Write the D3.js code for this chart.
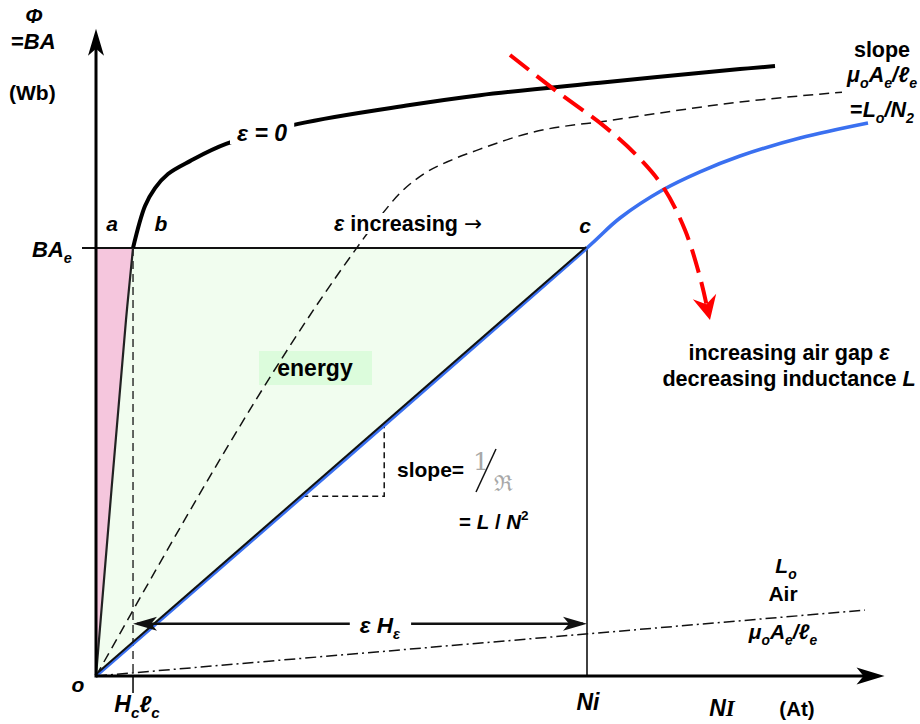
<!DOCTYPE html>
<html>
<head>
<meta charset="utf-8">
<script src="https://cdn.jsdelivr.net/npm/d3@7"></script>
<style>
  body { margin: 0; background: #fff; }
  text { font-family: "Liberation Sans", Arial, sans-serif; font-weight: bold; fill: #000; }
</style>
</head>
<body>
<svg id="chart" width="920" height="724"></svg>
<script>
// Flux Φ against excitation NI for a core with and without an air gap.
// x: NI in percent of the operating excitation Ni, y: Φ in units of BA_e.
const Ni = 100;          // operating excitation
const BAe = 1;           // operating flux B·A_e
const Hc = 7.54;         // core share H_c·ℓ_c at the operating flux
const xAxisEnd = 160.6;
const yAxisEnd = 1.512;

// ε = 0 : ungapped core curve
const eps0Curve = [
  [0, 0], [6.11, 0.832], [7.54, 1.0], [9.98, 1.098], [12.02, 1.140], [14.66, 1.173],
  [19.14, 1.203], [26.48, 1.243], [41.20, 1.290],
  [63.95, 1.334], [78.21, 1.357], [102.65, 1.386], [131.16, 1.418], [138.29, 1.425]
];
const eps0KneeIndex = 2;   // point b, where the curve meets BA_e

// intermediate gap (dashed)
const midCurve = [
  [0, 0], [52.34, 0.988], [57.03, 1.061], [61.91, 1.128], [67.0, 1.175], [72.5, 1.206],
  [78.21, 1.231], [88.39, 1.269], [105.30, 1.299], [131.16, 1.341], [151.93, 1.364]
];

// gapped core (blue)
const gapCurve = [
  [0, 0], [100, 1], [106.72, 1.070], [115.48, 1.136], [123.01, 1.178],
  [131.16, 1.215], [143.38, 1.257], [157.23, 1.292]
];

// air only: slope μ_o A_e / ℓ_e
const airLine = [[0, 0], [156.6, 0.154]];

// direction of increasing air gap
const gapArrow = [
  [84.32, 1.451], [93.48, 1.369], [103.67, 1.283], [110.39, 1.213], [115.48, 1.143],
  [119.96, 1.042], [123.01, 0.932], [125.05, 0.832]
];

// slope triangle on the gapped line
const slopeRun = [42, 58.7];

const svg = d3.select("#chart");
const x = d3.scaleLinear().domain([0, Ni]).range([96, 587]);
const y = d3.scaleLinear().domain([0, BAe]).range([676, 248]);

const line = d3.line().x(d => x(d[0])).y(d => y(d[1]));
const smooth = d3.line().x(d => x(d[0])).y(d => y(d[1])).curve(d3.curveCatmullRom.alpha(0.5));
const mono = d3.line().x(d => x(d[0])).y(d => y(d[1])).curve(d3.curveMonotoneX);

// --- shaded areas -------------------------------------------------------
const lowerEps0 = eps0Curve.slice(0, eps0KneeIndex + 1);
svg.append("path")
  .attr("d", smooth(lowerEps0) + "L" + x(0) + "," + y(BAe) + "Z")
  .attr("fill", "#f5c6dd");
svg.append("path")
  .attr("d", smooth(lowerEps0) + "L" + x(Ni) + "," + y(BAe) + "Z")
  .attr("fill", "#f1fdef");

// energy label box
svg.append("rect").attr("x", 259).attr("y", 351).attr("width", 113).attr("height", 34)
  .attr("fill", "#dcfcdc");

// --- construction lines ------------------------------------------------
svg.append("line")
  .attr("x1", x(0) - 14).attr("x2", x(Ni)).attr("y1", y(BAe)).attr("y2", y(BAe))
  .attr("stroke", "#111").attr("stroke-width", 1.8);
svg.append("line")
  .attr("x1", x(Ni)).attr("x2", x(Ni)).attr("y1", y(BAe)).attr("y2", y(0))
  .attr("stroke", "#111").attr("stroke-width", 1.6);
svg.append("line")
  .attr("x1", x(Hc)).attr("x2", x(Hc)).attr("y1", y(BAe)).attr("y2", y(0))
  .attr("stroke", "#222").attr("stroke-width", 1.4).attr("stroke-dasharray", "8,5");
svg.append("line")
  .attr("x1", x(Hc)).attr("x2", x(Hc)).attr("y1", y(0)).attr("y2", y(0) + 17)
  .attr("stroke", "#111").attr("stroke-width", 1.6);

// slope triangle
svg.append("path")
  .attr("d", line([[slopeRun[0], slopeRun[0] / Ni], [slopeRun[1], slopeRun[0] / Ni], [slopeRun[1], slopeRun[1] / Ni]]))
  .attr("fill", "none").attr("stroke", "#111").attr("stroke-width", 1.5).attr("stroke-dasharray", "6,4");

// air line
svg.append("path").attr("d", line(airLine))
  .attr("fill", "none").attr("stroke", "#111").attr("stroke-width", 1.5)
  .attr("stroke-dasharray", "11,4,2,4");

// intermediate gap curve
svg.append("path").attr("d", mono(midCurve))
  .attr("fill", "none").attr("stroke", "#111").attr("stroke-width", 1.5)
  .attr("stroke-dasharray", "10,6");

// gapped core curve and its linear part
svg.append("path").attr("d", smooth(gapCurve))
  .attr("fill", "none").attr("stroke", "#3a70f0").attr("stroke-width", 3.6);
svg.append("path").attr("d", line([[0, 0], [Ni, BAe]]))
  .attr("transform", "translate(-0.9,-0.9)")
  .attr("fill", "none").attr("stroke", "#111").attr("stroke-width", 2);

// ε = 0 curve
svg.append("path").attr("d", smooth(lowerEps0))
  .attr("fill", "none").attr("stroke", "#222").attr("stroke-width", 2.2);
svg.append("path").attr("d", smooth(eps0Curve.slice(eps0KneeIndex)))
  .attr("fill", "none").attr("stroke", "#000").attr("stroke-width", 4);

// barbed arrow head with its tip at (tx, ty) pointing along angle a
function arrowHead(tx, ty, a, len, half, notch, color) {
  const c = Math.cos(a), s = Math.sin(a);
  const p = (u, v) => [tx - u * c - v * s, ty - u * s + v * c];
  const pts = [p(0, 0), p(len, half), p(len - notch, 0), p(len, -half)];
  svg.append("path").attr("d", "M" + pts.map(q => q.join(",")).join("L") + "Z")
    .attr("fill", color);
}

// red arrow: increasing gap
const gA = gapArrow.map(d => [x(d[0]), y(d[1])]);
svg.append("path").attr("d", smooth(gapArrow.slice(0, -1).concat([[124.3, 0.87]])))
  .attr("fill", "none").attr("stroke", "#f00").attr("stroke-width", 4)
  .attr("stroke-dasharray", "24,10");
{
  const n = gA.length;
  const a = Math.atan2(gA[n - 1][1] - gA[n - 2][1], gA[n - 1][0] - gA[n - 2][0]);
  arrowHead(gA[n - 1][0], gA[n - 1][1], a, 24, 12, 8, "#f00");
}

// ε H_ε dimension arrow
const dimY = y(0.122);
svg.append("line").attr("x1", x(Hc) + 4).attr("x2", x(Ni) - 4).attr("y1", dimY).attr("y2", dimY)
  .attr("stroke", "#111").attr("stroke-width", 2.5);
arrowHead(x(Hc), dimY, Math.PI, 24, 7, 6, "#111");
arrowHead(x(Ni), dimY, 0, 24, 7, 6, "#111");

// axes
svg.append("line").attr("x1", x(0)).attr("x2", x(xAxisEnd) - 10).attr("y1", y(0)).attr("y2", y(0))
  .attr("stroke", "#000").attr("stroke-width", 3);
svg.append("line").attr("x1", x(0)).attr("x2", x(0)).attr("y1", y(0) + 1.5).attr("y2", y(yAxisEnd) + 10)
  .attr("stroke", "#000").attr("stroke-width", 3);
arrowHead(x(xAxisEnd), y(0), 0, 28, 8.5, 7, "#000");
arrowHead(x(0), y(yAxisEnd), -Math.PI / 2, 27, 8, 7, "#000");

// --- labels ------------------------------------------------------------
function rich(px, py, parts, size, anchor) {
  const t = svg.append("text").attr("x", px).attr("y", py)
    .attr("font-size", size).attr("text-anchor", anchor || "start");
  let shift = 0;
  parts.forEach(p => {
    const s = t.append("tspan").text(p.t);
    const target = p.sub ? size * 0.28 : p.sup ? -size * 0.42 : 0;
    if (target !== shift) { s.attr("dy", target - shift); shift = target; }
    if (p.sub || p.sup) s.attr("font-size", size * 0.66);
    if (p.i) s.attr("font-style", "italic");
    if (p.f) s.attr("font-family", p.f);
    if (p.w) s.attr("font-weight", p.w);
    if (p.fill) s.style("fill", p.fill);
  });
  return t;
}
function backing(t, pad) {
  const b = t.node().getBBox();
  svg.insert("rect", () => t.node())
    .attr("x", b.x - pad).attr("y", b.y + 2).attr("width", b.width + 2 * pad).attr("height", b.height - 4)
    .attr("fill", "#fff");
}

rich(34, 23, [{ t: "Φ", i: true }], 21, "middle");
rich(11, 49, [{ t: "=" }, { t: "BA", i: true }], 22);
rich(9, 100, [{ t: "(Wb)" }], 21);
rich(32, 257, [{ t: "BA", i: true }, { t: "e", i: true, sub: true }], 22);

rich(112, 231, [{ t: "a", i: true }], 21, "middle");
rich(161, 231, [{ t: "b", i: true }], 21, "middle");
rich(585, 233, [{ t: "c", i: true }], 21, "middle");

backing(rich(262, 141, [{ t: "ε = 0", i: true }], 23, "middle"), 7);
backing(rich(408, 231, [{ t: "ε", i: true }, { t: " increasing " }, { t: "→", f: "'DejaVu Sans', sans-serif", w: "normal" }], 21.5, "middle"), 2);

rich(315, 376, [{ t: "energy" }], 23, "middle");

rich(397, 477, [{ t: "slope" }, { t: "=" }], 21);
rich(481, 470, [{ t: "1", f: "'DejaVu Serif', serif", w: "normal", fill: "#a8a8a8" }], 25, "middle");
svg.append("line").attr("x1", 476).attr("y1", 492).attr("x2", 496).attr("y2", 449)
  .attr("stroke", "#111").attr("stroke-width", 1.5);
rich(503, 491, [{ t: "ℜ", f: "'DejaVu Serif', serif", w: "normal", fill: "#a8a8a8" }], 22, "middle");
rich(459, 529, [{ t: "= " }, { t: "L", i: true }, { t: " / " }, { t: "N", i: true }, { t: "2", sup: true }], 20.5);

backing(rich(380, 633, [{ t: "ε", i: true }, { t: " " }, { t: "H", i: true }, { t: "ε", i: true, sub: true }], 22.5, "middle"), 10);

rich(882, 57, [{ t: "slope" }], 21.5, "middle");
rich(882, 82, [{ t: "μ", i: true }, { t: "o", i: true, sub: true }, { t: "A", i: true }, { t: "e", i: true, sub: true },
  { t: "/ℓ", i: true }, { t: "e", i: true, sub: true }], 21.5, "middle");
rich(882, 117, [{ t: "=" }, { t: "L", i: true }, { t: "o", i: true, sub: true }, { t: "/N", i: true }, { t: "2", i: true, sub: true }], 21.5, "middle");

rich(789, 360, [{ t: "increasing air gap " }, { t: "ε", i: true }], 21.6, "middle");
rich(789, 386, [{ t: "decreasing inductance " }, { t: "L", i: true }], 21.6, "middle");

rich(786, 573, [{ t: "L", i: true }, { t: "o", i: true, sub: true }], 21, "middle");
rich(783, 601, [{ t: "Air" }], 21, "middle");
rich(783, 639, [{ t: "μ", i: true }, { t: "o", i: true, sub: true }, { t: "A", i: true }, { t: "e", i: true, sub: true },
  { t: "/ℓ", i: true }, { t: "e", i: true, sub: true }], 21, "middle");

rich(78, 692, [{ t: "o", i: true }], 21, "middle");
rich(137, 712, [{ t: "H", i: true }, { t: "c", i: true, sub: true }, { t: "ℓ", i: true }, { t: "c", i: true, sub: true }], 23, "middle");
rich(588, 710, [{ t: "Ni", i: true }], 23, "middle");
rich(722, 716, [{ t: "N", i: true }, { t: "I", i: true, f: "'Liberation Serif', serif" }], 23, "middle");
rich(797, 716, [{ t: "(At)" }], 20.5, "middle");
</script>
</body>
</html>
